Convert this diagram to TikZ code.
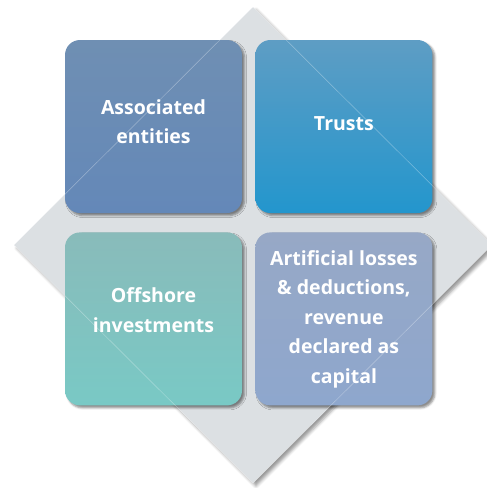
\documentclass[tikz,border=0pt]{standalone}
\usepackage{fontspec}
\setmainfont{Open Sans}
\usetikzlibrary{positioning,shadows.blur}
\definecolor{assocTop}{HTML}{6F8FB3}
\definecolor{assocBot}{HTML}{6488B8}
\definecolor{trustTop}{HTML}{5E9DC4}
\definecolor{trustBot}{HTML}{2396CD}
\definecolor{offTop}{HTML}{89BBBA}
\definecolor{offBot}{HTML}{79C9C5}
\definecolor{lossTop}{HTML}{97A8C6}
\definecolor{lossBot}{HTML}{8EA7CD}
\definecolor{diamondGray}{HTML}{DCE0E3}

\begin{document}
\begin{tikzpicture}[x=1pt,y=-1pt,
    box/.style={rounded corners=15pt, minimum width=177pt, minimum height=173pt,
        inner sep=0pt,
        blur shadow={shadow xshift=2.5pt, shadow yshift=-2.5pt,
            shadow blur radius=2pt, shadow opacity=45}},
    boxtext/.style={align=center, text=white, inner sep=0pt,
        font=\bfseries\fontsize{19.5}{29.5}\selectfont}]
    \useasboundingbox (0,0) rectangle (487,488);
    % Backing diamond
    \coordinate (dtop) at (253,7);
    \coordinate (dleft) at (14,245);
    \coordinate (dbot) at (253,483);
    \coordinate (dright) at (492,245);
    \fill[diamondGray, blur shadow={shadow xshift=3pt, shadow yshift=-3pt,
            shadow blur radius=3pt, shadow opacity=40}]
        (dtop) -- (dleft) -- (dbot) -- (dright) -- cycle;
    % Four boxes
    \node[box, top color=assocTop, bottom color=assocBot] (assoc) at (153.5,126.5) {};
    \node[box, top color=trustTop, bottom color=trustBot, right=13pt of assoc] (trusts) {};
    \node[box, top color=offTop, bottom color=offBot, below=19pt of assoc] (offshore) {};
    \node[box, top color=lossTop, bottom color=lossBot, below=19pt of trusts] (losses) {};
    % Diamond edges showing through the boxes
    \draw[white, opacity=0.35, line width=0.5pt] (dtop) -- (dleft) -- (dbot) -- (dright) -- cycle;
    % Labels
    \node[boxtext] (assoc-t) at ([yshift=5pt]assoc.center) {Associated\\entities};
    \node[boxtext] (trusts-t) at ([yshift=3pt]trusts.center) {Trusts};
    \node[boxtext] (offshore-t) at ([yshift=9pt]offshore.center) {Offshore\\investments};
    \node[boxtext] (losses-t) at (losses.center) {Artificial losses\\\& deductions,\\revenue\\declared as\\capital};
\end{tikzpicture}
\end{document}
